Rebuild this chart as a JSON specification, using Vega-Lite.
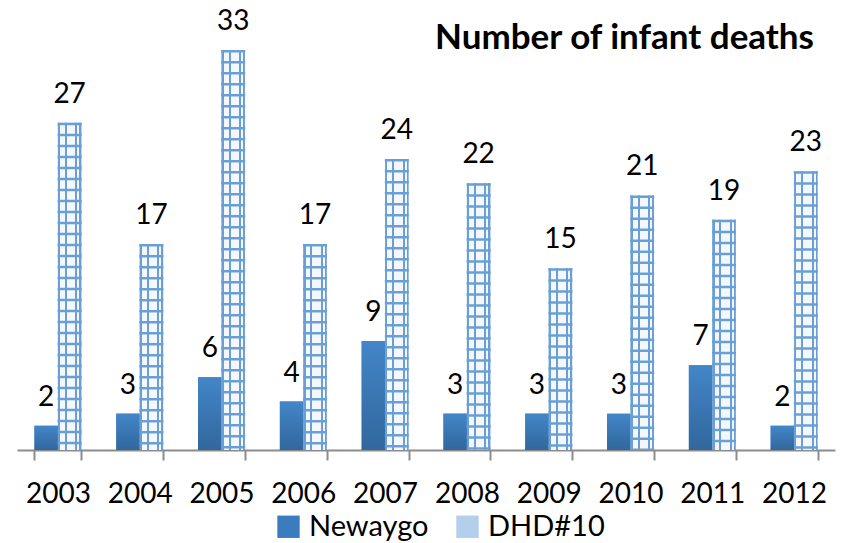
{
  "$schema": "https://vega.github.io/schema/vega-lite/v6.json",
  "autosize": {"type": "none"},
  "width": 818,
  "height": 400,
  "padding": {"left": 17, "top": 50, "right": 9, "bottom": 93},
  "background": "white",
  "title": {
    "text": "Number of infant deaths",
    "anchor": "end",
    "orient": "top",
    "frame": "group",
    "font": "Lato",
    "fontWeight": "bold",
    "fontSize": 35,
    "color": "black",
    "baseline": "alphabetic",
    "offset": 0,
    "dx": -21,
    "dy": 76
  },
  "config": {
    "view": {"stroke": null},
    "font": "Lato"
  },
  "data": {
    "values": [
      {"year": "2003", "series": "Newaygo", "deaths": 2},
      {"year": "2003", "series": "DHD#10", "deaths": 27},
      {"year": "2004", "series": "Newaygo", "deaths": 3},
      {"year": "2004", "series": "DHD#10", "deaths": 17},
      {"year": "2005", "series": "Newaygo", "deaths": 6},
      {"year": "2005", "series": "DHD#10", "deaths": 33},
      {"year": "2006", "series": "Newaygo", "deaths": 4},
      {"year": "2006", "series": "DHD#10", "deaths": 17},
      {"year": "2007", "series": "Newaygo", "deaths": 9},
      {"year": "2007", "series": "DHD#10", "deaths": 24},
      {"year": "2008", "series": "Newaygo", "deaths": 3},
      {"year": "2008", "series": "DHD#10", "deaths": 22},
      {"year": "2009", "series": "Newaygo", "deaths": 3},
      {"year": "2009", "series": "DHD#10", "deaths": 15},
      {"year": "2010", "series": "Newaygo", "deaths": 3},
      {"year": "2010", "series": "DHD#10", "deaths": 21},
      {"year": "2011", "series": "Newaygo", "deaths": 7},
      {"year": "2011", "series": "DHD#10", "deaths": 19},
      {"year": "2012", "series": "Newaygo", "deaths": 2},
      {"year": "2012", "series": "DHD#10", "deaths": 23}
    ]
  },
  "encoding": {
    "x": {
      "field": "year",
      "type": "ordinal",
      "scale": {"paddingInner": 0.427, "paddingOuter": 0.2135},
      "axis": {
        "title": null,
        "labelAngle": 0,
        "labelFont": "Lato",
        "labelFontSize": 28,
        "labelColor": "black",
        "labelPadding": 20,
        "domainColor": "#8c8c8c",
        "domainWidth": 2,
        "tickColor": "#8c8c8c",
        "tickWidth": 2,
        "tickSize": 10,
        "tickBand": "extent"
      }
    },
    "xOffset": {
      "field": "series",
      "type": "nominal",
      "sort": ["Newaygo", "DHD#10"],
      "scale": {"paddingInner": 0, "paddingOuter": 0}
    },
    "y": {
      "field": "deaths",
      "type": "quantitative",
      "scale": {"domain": [0, 33], "nice": false, "zero": true},
      "axis": null
    }
  },
  "layer": [
    {
      "mark": {"type": "bar", "strokeWidth": 0},
      "encoding": {
        "color": {
          "field": "series",
          "type": "nominal",
          "sort": ["Newaygo", "DHD#10"],
          "scale": {
            "domain": ["Newaygo", "DHD#10"],
            "range": ["#3b7cbf", "#b3cfec"]
          },
          "legend": {
            "title": null,
            "orient": "none",
            "direction": "horizontal",
            "legendX": 257,
            "legendY": 462,
            "padding": 0,
            "symbolType": "square",
            "symbolSize": 500,
            "symbolStrokeWidth": 0,
            "symbolOpacity": 1,
            "labelFont": "Lato",
            "labelFontSize": 29,
            "labelColor": "black",
            "labelOffset": 6,
            "columnPadding": 24
          }
        }
      }
    },
    {
      "transform": [{"filter": "datum.series === 'Newaygo'"}],
      "mark": {
        "type": "bar", "strokeWidth": 0,
        "color": {"gradient": "linear", "x1": 0, "y1": 0, "x2": 0, "y2": 1,
          "stops": [{"offset": 0, "color": "#4386c8"}, {"offset": 1, "color": "#31679d"}]}
      }
    },
    {
      "transform": [{"filter": "datum.series === 'DHD#10'"}],
      "mark": {
        "type": "bar", "strokeWidth": 0,
        "color": {"gradient": "linear", "x1": 0, "y1": 0, "x2": 1, "y2": 0,
          "stops": [
            {"offset": 0, "color": "#6a9fd6"}, {"offset": 0.095, "color": "#6a9fd6"},
            {"offset": 0.095, "color": "#f4f8fd"}, {"offset": 0.3, "color": "#f4f8fd"},
            {"offset": 0.3, "color": "#6a9fd6"}, {"offset": 0.385, "color": "#6a9fd6"},
            {"offset": 0.385, "color": "#f4f8fd"}, {"offset": 0.75, "color": "#f4f8fd"},
            {"offset": 0.75, "color": "#6a9fd6"}, {"offset": 0.835, "color": "#6a9fd6"},
            {"offset": 0.835, "color": "#f4f8fd"}, {"offset": 0.915, "color": "#f4f8fd"},
            {"offset": 0.915, "color": "#6a9fd6"}, {"offset": 1, "color": "#6a9fd6"}
          ]}
      }
    },
    {
      "transform": [{"filter": "datum.series === 'DHD#10'"}],
      "mark": {"type": "rule", "stroke": "#6a9fd6", "strokeWidth": 24, "strokeDash": [2.5, 8.5]},
      "encoding": {
        "y2": {"datum": 0}
      }
    },
    {
      "mark": {"type": "text", "baseline": "alphabetic", "dy": -20, "font": "Lato", "fontSize": 28, "color": "black"},
      "encoding": {
        "text": {"field": "deaths", "type": "quantitative"}
      }
    }
  ]
}
